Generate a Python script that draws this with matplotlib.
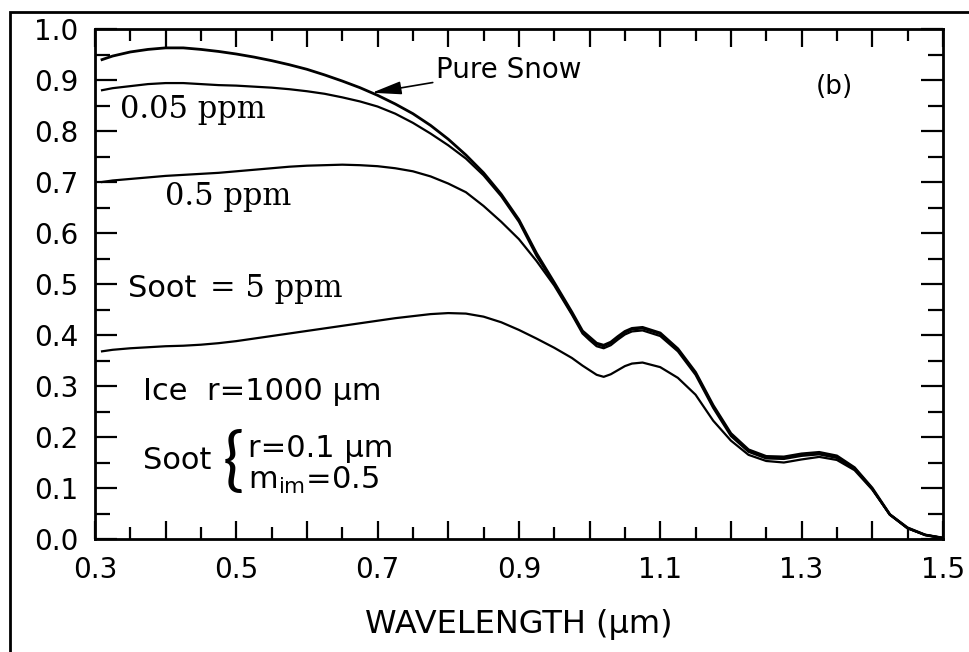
import matplotlib
matplotlib.use("Agg")
import matplotlib.pyplot as plt
from matplotlib.ticker import MultipleLocator, FuncFormatter
from matplotlib.patches import Rectangle

# spectral albedo of snow with soot
wavelength = [0.31, 0.325, 0.35, 0.375, 0.40, 0.425, 0.45, 0.475, 0.50, 0.525,
              0.55, 0.575, 0.60, 0.625, 0.65, 0.675, 0.70, 0.725, 0.75, 0.775,
              0.80, 0.825, 0.85, 0.875, 0.90, 0.925, 0.95, 0.975, 0.99, 1.00,
              1.01, 1.02, 1.03, 1.04, 1.05, 1.06, 1.075, 1.10, 1.125, 1.15,
              1.175, 1.20, 1.225, 1.25, 1.275, 1.30, 1.325, 1.35, 1.375, 1.40,
              1.425, 1.45, 1.475, 1.50]

pure_snow = [0.940, 0.947, 0.955, 0.960, 0.963, 0.963, 0.960, 0.956, 0.951, 0.945,
             0.938, 0.930, 0.921, 0.910, 0.898, 0.885, 0.870, 0.853, 0.834, 0.811,
             0.784, 0.753, 0.718, 0.676, 0.626, 0.560, 0.503, 0.445, 0.408, 0.396,
             0.384, 0.380, 0.386, 0.397, 0.407, 0.413, 0.415, 0.404, 0.373, 0.327,
             0.262, 0.207, 0.175, 0.162, 0.161, 0.167, 0.170, 0.163, 0.140, 0.100,
             0.048, 0.022, 0.008, 0.002]

soot_005 = [0.880, 0.884, 0.888, 0.892, 0.894, 0.894, 0.892, 0.890, 0.889, 0.887,
            0.885, 0.882, 0.878, 0.873, 0.866, 0.858, 0.848, 0.834, 0.816, 0.795,
            0.772, 0.746, 0.713, 0.672, 0.622, 0.555, 0.500, 0.442, 0.406, 0.394,
            0.382, 0.378, 0.384, 0.395, 0.405, 0.411, 0.413, 0.402, 0.371, 0.325,
            0.260, 0.205, 0.173, 0.160, 0.159, 0.165, 0.168, 0.161, 0.139, 0.099,
            0.048, 0.022, 0.008, 0.002]

soot_05 = [0.700, 0.703, 0.706, 0.709, 0.712, 0.714, 0.716, 0.718, 0.721, 0.724,
           0.727, 0.730, 0.732, 0.733, 0.734, 0.733, 0.731, 0.727, 0.721, 0.711,
           0.697, 0.680, 0.653, 0.622, 0.588, 0.545, 0.497, 0.440, 0.403, 0.390,
           0.378, 0.374, 0.380, 0.391, 0.401, 0.407, 0.409, 0.398, 0.368, 0.322,
           0.257, 0.202, 0.171, 0.158, 0.157, 0.163, 0.166, 0.159, 0.138, 0.098,
           0.048, 0.021, 0.008, 0.002]

soot_5 = [0.368, 0.371, 0.374, 0.376, 0.378, 0.379, 0.381, 0.384, 0.388, 0.393,
          0.398, 0.403, 0.408, 0.413, 0.418, 0.423, 0.428, 0.433, 0.437, 0.441,
          0.443, 0.442, 0.436, 0.425, 0.410, 0.393, 0.375, 0.355, 0.340, 0.331,
          0.322, 0.318, 0.323, 0.331, 0.339, 0.344, 0.346, 0.337, 0.316, 0.283,
          0.232, 0.193, 0.165, 0.153, 0.150, 0.156, 0.161, 0.155, 0.135, 0.097,
          0.048, 0.021, 0.008, 0.002]

plt.rcParams['font.family'] = ['DejaVu Sans']

fig = plt.figure(figsize=(9.69, 6.52), dpi=100)
ax = fig.add_axes([0.098, 0.1733, 0.875, 0.7822])

ax.plot(wavelength, pure_snow, color='black', lw=2.0, solid_joinstyle='round')
for series in (soot_005, soot_05, soot_5):
    ax.plot(wavelength, series, color='black', lw=1.6, solid_joinstyle='round')

ax.set_xlim(0.3, 1.5)
ax.set_ylim(0.0, 1.0)

# ticks on all four sides, pointing in
ax.xaxis.set_major_locator(MultipleLocator(0.1))
ax.xaxis.set_minor_locator(MultipleLocator(0.05))
ax.yaxis.set_major_locator(MultipleLocator(0.1))
ax.yaxis.set_minor_locator(MultipleLocator(0.05))
ax.xaxis.set_major_formatter(FuncFormatter(
    lambda v, p: f"{v:.1f}" if round(v * 10) % 2 == 1 else ""))
ax.yaxis.set_major_formatter(FuncFormatter(lambda v, p: f"{v:.1f}"))

ax.tick_params(which='both', direction='in', width=1.6, colors='black',
               labelsize=20, top=True, right=True)
ax.tick_params(which='major', length=13)
ax.tick_params(which='minor', length=8.5)
ax.tick_params(axis='y', which='major', length=16, pad=12)
ax.tick_params(axis='y', which='minor', length=11)
ax.tick_params(axis='x', pad=12)
for s in ax.spines.values():
    s.set_linewidth(2.0)

ax.set_xlabel("WAVELENGTH (μm)", fontsize=23, labelpad=18)

# curve labels
ax.annotate("Pure Snow", xy=(0.692, 0.875), xytext=(0.782, 0.920),
            fontsize=20, va='center', ha='left',
            arrowprops=dict(arrowstyle='-|>,head_length=0.9,head_width=0.2',
                            color='black', lw=1.2, shrinkA=0, shrinkB=0))
ax.text(1.346, 0.886, "(b)", fontsize=19, ha='center', va='center')

serif = 'DejaVu Serif'
ax.text(0.335, 0.825, "0.05 ppm", fontsize=22, family=serif, va='baseline')
ax.text(0.399, 0.655, "0.5 ppm", fontsize=22, family=serif, va='baseline')
ax.text(0.347, 0.475, "Soot", fontsize=22, va='baseline')
ax.text(0.463, 0.475, "= 5 ppm", fontsize=22, family=serif, va='baseline')

ax.text(0.368, 0.273, "Ice  r=1000 μm", fontsize=22, va='baseline')
ax.text(0.368, 0.153, "Soot", fontsize=22, va='center')
ax.text(0.480, 0.149, "{", fontsize=50, family='Lato', fontweight='normal',
        va='center', ha='left')
ax.text(0.516, 0.161, "r=0.1 μm", fontsize=22, va='baseline')
ax.text(0.516, 0.098, r"m$_{\mathrm{im}}$=0.5", fontsize=22, va='baseline')

# outer frame around the panel
fig.add_artist(Rectangle((10 / 969, -0.1), 1.2, 1.1 - 12 / 652,
                         transform=fig.transFigure, fill=False,
                         lw=2.0, ec='black'))

fig.savefig("out.png", dpi=100)
